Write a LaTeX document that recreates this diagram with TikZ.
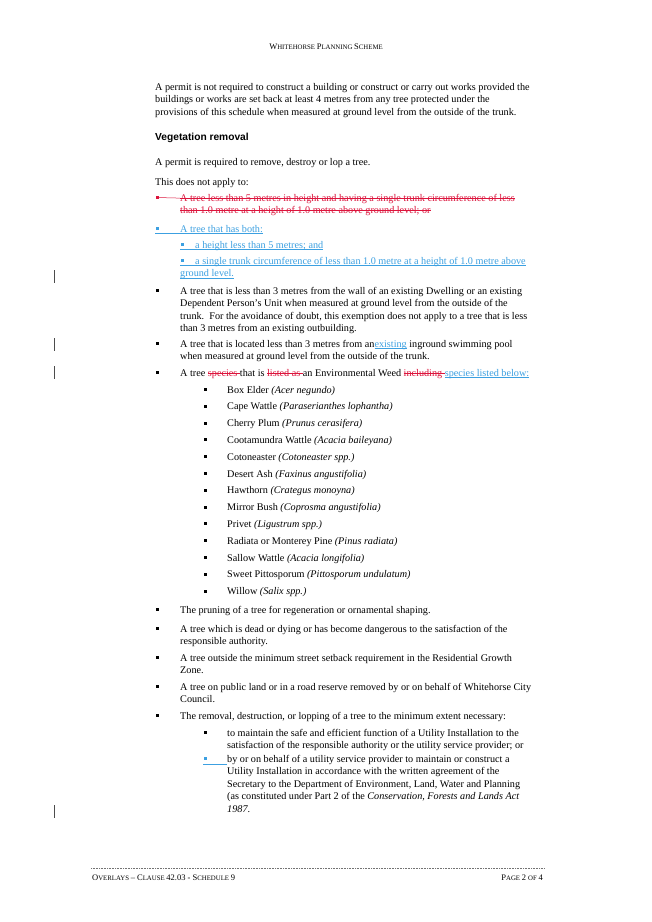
\documentclass[tikz,border=0pt]{standalone}
\usepackage{fontspec}
\setmainfont{Liberation Serif}
\newfontfamily\arialf{Liberation Sans}
\definecolor{trackred}{RGB}{220,20,60}
\definecolor{trackblue}{RGB}{60,160,225}
\newsavebox{\trkbox}
\newcommand{\rs}[1]{\sbox{\trkbox}{\color{trackred}#1}{\color{trackred}\rlap{\rule[2.9pt]{\wd\trkbox}{0.5pt}}\usebox{\trkbox}}}
\newcommand{\bu}[1]{\sbox{\trkbox}{\color{trackblue}#1}{\color{trackblue}\rlap{\rule[-1.6pt]{\wd\trkbox}{0.5pt}}\usebox{\trkbox}}}
\begin{document}
\begin{tikzpicture}[x=1pt,y=-1pt,
  txt/.style={anchor=base west,inner sep=0pt,font=\fontsize{10.2}{12}\selectfont},
  bul/.style={fill=black,inner sep=0pt,minimum width=3pt,minimum height=3pt,anchor=center,draw=none},
  bar/.style={draw=black!70,line width=0.8pt}]
\useasboundingbox[fill=white] (0,0) rectangle (652,922);
% header
\node[txt,anchor=base] (hdr) at (326,49) {\fontsize{8.5}{10}\selectfont W\fontsize{6.8}{8}\selectfont HITEHORSE \fontsize{8.5}{10}\selectfont P\fontsize{6.8}{8}\selectfont LANNING \fontsize{8.5}{10}\selectfont S\fontsize{6.8}{8}\selectfont CHEME};
% intro
\node[txt] (p1) at (155,90) {A permit is not required to construct a building or construct or carry out works provided the};
\node[txt] (p2) at (155,102.5) {buildings or works are set back at least 4 metres from any tree protected under the};
\node[txt] (p3) at (155,115) {provisions of this schedule when measured at ground level from the outside of the trunk.};
\node[txt,font=\arialf\bfseries\fontsize{10.2}{12}\selectfont] (veg) at (155,140) {Vegetation removal};
\node[txt] (p4) at (155,165) {A permit is required to remove, destroy or lop a tree.};
\node[txt] (p5) at (155,185) {This does not apply to:};
% red deleted item
\node[bul,fill=trackred] (rb) at (157,197.5) {};
\node[txt] (r1) at (180,201) {\rs{A tree less than 5 metres in height and having a single trunk circumference of less}};
\node[txt] (r2) at (180,213.5) {\rs{than 1.0 metre at a height of 1.0 metre above ground level; or}};
\draw[trackred,line width=0.5pt] (rb.center) -- (r1.base west |- 0,198.1);
% blue inserted item
\node[bul,fill=trackblue] (bb) at (157,228.5) {};
\node[txt] (bt) at (180,232) {\bu{A tree that has both:}};
\draw[trackblue,line width=0.5pt] (155,233.6) -- (bt.base west |- 0,233.6);
\node[bul,fill=trackblue] (bb2) at (182,244.5) {};
\node[txt] (bt2) at (195,248) {\bu{a height less than 5 metres; and}};
\draw[trackblue,line width=0.5pt] (180,249.6) -- (bt2.base west |- 0,249.6);
\node[bul,fill=trackblue] (bb3) at (182,260.5) {};
\node[txt] (bt3) at (195,264) {\bu{a single trunk circumference of less than 1.0 metre at a height of 1.0 metre above}};
\draw[trackblue,line width=0.5pt] (180,265.6) -- (bt3.base west |- 0,265.6);
\node[txt] (bt4) at (180,276.5) {\bu{ground level.}};
% dwelling
\node[bul] (d0) at (157,290.5) {};
\node[txt] (d1) at (180,294) {A tree that is less than 3 metres from the wall of an existing Dwelling or an existing};
\node[txt] (d2) at (180,306.5) {Dependent Person's Unit when measured at ground level from the outside of the};
\node[txt] (d3) at (180,319) {trunk.\ \ For the avoidance of doubt, this exemption does not apply to a tree that is less};
\node[txt] (d4) at (180,331.5) {than 3 metres from an existing outbuilding.};
% pool
\node[bul] (s0) at (157,343.5) {};
\node[txt] (s1) at (180,347) {A tree that is located less than 3 metres from an\bu{ existing} inground swimming pool};
\node[txt] (s2) at (180,359.5) {when measured at ground level from the outside of the trunk.};
% species
\node[bul] (w0) at (157,372.5) {};
\node[txt] (w1) at (180,376) {A tree \rs{species }that is \rs{listed as }an Environmental Weed \rs{including }\bu{species listed below:}};
\foreach \i [count=\k from 0] in {Box Elder \textit{(Acer negundo)},Cape Wattle \textit{(Paraserianthes lophantha)},Cherry Plum \textit{(Prunus cerasifera)},Cootamundra Wattle \textit{(Acacia baileyana)},Cotoneaster \textit{(Cotoneaster spp.)},Desert Ash \textit{(Faxinus angustifolia)},Hawthorn \textit{(Crategus monoyna)},Mirror Bush \textit{(Coprosma angustifolia)},Privet \textit{(Ligustrum spp.)},Radiata or Monterey Pine \textit{(Pinus radiata)},Sallow Wattle \textit{(Acacia longifolia)},Sweet Pittosporum \textit{(Pittosporum undulatum)},Willow \textit{(Salix spp.)}}{
  \node[bul] (lb\k) at (205,{393-3.5+16.8*\k}) {};
  \node[txt] (lt\k) at (227,{393+16.8*\k}) {\i};
}
% remaining
\node[bul] (e0) at (157,609.5) {};
\node[txt] (e1) at (180,613) {The pruning of a tree for regeneration or ornamental shaping.};
\node[bul] (f0) at (157,628.5) {};
\node[txt] (f1) at (180,632) {A tree which is dead or dying or has become dangerous to the satisfaction of the};
\node[txt] (f2) at (180,644.5) {responsible authority.};
\node[bul] (g0) at (157,657.5) {};
\node[txt] (g1) at (180,661) {A tree outside the minimum street setback requirement in the Residential Growth};
\node[txt] (g2) at (180,673.5) {Zone.};
\node[bul] (h0) at (157,686.5) {};
\node[txt] (h1) at (180,690) {A tree on public land or in a road reserve removed by or on behalf of Whitehorse City};
\node[txt] (h2) at (180,702.5) {Council.};
\node[bul] (i0) at (157,715.5) {};
\node[txt] (i1) at (180,719) {The removal, destruction, or lopping of a tree to the minimum extent necessary:};
\node[bul] (j0) at (205,732.5) {};
\node[txt] (j1) at (227,736) {to maintain the safe and efficient function of a Utility Installation to the};
\node[txt] (j2) at (227,748.5) {satisfaction of the responsible authority or the utility service provider; or};
\node[bul,fill=trackblue] (k0) at (205,758.5) {};
\draw[trackblue,line width=0.5pt] (203,764) -- (227,764);
\node[txt] (k1) at (227,762) {by or on behalf of a utility service provider to maintain or construct a};
\node[txt] (k2) at (227,774.5) {Utility Installation in accordance with the written agreement of the};
\node[txt] (k3) at (227,787) {Secretary to the Department of Environment, Land, Water and Planning};
\node[txt] (k4) at (227,799.5) {(as constituted under Part 2 of the \textit{Conservation, Forests and Lands Act}};
\node[txt] (k5) at (227,812) {\textit{1987}.};
% change bars
\draw[bar] (54,270) -- (54,283);
\draw[bar] (54,338) -- (54,351);
\draw[bar] (54,366) -- (54,379);
\draw[bar] (54,805) -- (54,818);
% footer
\draw[black!55,line width=0.6pt,densely dotted] (91,868) -- (545,868);
\node[txt] (fl) at (92,880) {\fontsize{8.5}{10}\selectfont O\fontsize{6.8}{8}\selectfont VERLAYS \fontsize{8.5}{10}\selectfont – C\fontsize{6.8}{8}\selectfont LAUSE \fontsize{8.5}{10}\selectfont 42.03 - S\fontsize{6.8}{8}\selectfont CHEDULE \fontsize{8.5}{10}\selectfont 9};
\node[txt,anchor=base east] (fr) at (543,880) {\fontsize{8.5}{10}\selectfont P\fontsize{6.8}{8}\selectfont AGE \fontsize{8.5}{10}\selectfont 2 \fontsize{6.8}{8}\selectfont OF \fontsize{8.5}{10}\selectfont 4};
\end{tikzpicture}
\end{document}
